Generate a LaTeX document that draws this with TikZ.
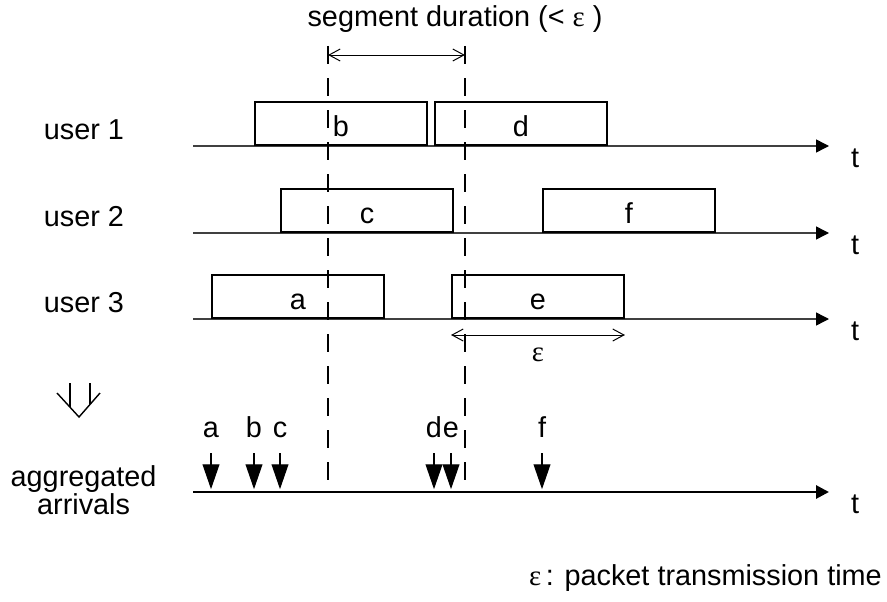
\documentclass[tikz,border=0pt]{standalone}
\usepackage{fontspec}
\setmainfont{Liberation Sans}
\newfontfamily\epsfont{Liberation Serif}
\usepackage{tikz}
\usetikzlibrary{arrows.meta,positioning}

\newcommand{\eps}{{\epsfont ε}}

\begin{document}
\begin{tikzpicture}[
  font=\fontsize{20.5}{24}\selectfont,
  pkt/.style={draw, line width=1.4pt, minimum width=4.3cm, text height=0.85cm, text depth=0.225cm, anchor=south west, inner sep=0pt},
  axis/.style={-{Triangle[length=0.32cm,width=0.32cm,black]}, line width=1pt, draw=black!75},
  aggaxis/.style={-{Triangle[length=0.32cm,width=0.32cm]}, line width=2pt},
  segline/.style={line width=1.4pt, dash pattern=on 0.45cm off 0.35cm},
  dim/.style={{Straight Barb[length=0.28cm,width=0.3cm]}-{Straight Barb[length=0.28cm,width=0.3cm]}, line width=0.7pt},
  arrival/.style={-{Triangle[length=0.62cm,width=0.42cm]}, line width=0.8pt, shorten >=2pt},
  lbl/.style={anchor=base, inner sep=0pt},
]
\useasboundingbox (0,0) rectangle (22.175,15.025);
\coordinate (tip) at (20.725,0);

% ---- per-user time lines ----
\foreach \i/\y in {1/11.375, 2/9.2, 3/7.05} {
  \coordinate (u\i) at (4.825,\y);
  \draw[axis] (u\i) -- (u\i -| tip);
  \node[lbl] (t\i) at (21.375,\y-0.54) {t};
  \node[lbl] (user\i) at (2.1,\y+0.175) {user \i};
}

% ---- packets ----
\node[pkt] (b) at (6.35,11.375) {b};
\node[pkt] (d) at (10.85,11.375) {d};
\node[pkt] (c) at (7.0,9.2) {c};
\node[pkt] (f) at (13.55,9.2) {f};
\node[pkt] (a) at (5.275,7.05) {a};
\node[pkt] (e) at (11.275,7.05) {e};

% ---- aggregated time line ----
\coordinate (agg) at (4.825,2.725);
\draw[aggaxis] (agg) -- (agg -| tip);
\node[lbl] (tagg) at (21.375,2.185) {t};
\node[align=center, font=\fontsize{20.5}{20}\selectfont] (agglabel) at (2.09,2.775) {aggregated\\arrivals};
\coordinate (arrtop) at (0,3.7);
\foreach \p in {a,b,c,d,e,f} {
  \draw[arrival] (\p.south west |- arrtop) -- (\p.south west |- agg);
  \node[lbl] (l\p) at (\p.south west |- 0,4.1) {\p};
}

% ---- segment boundaries ----
\coordinate (s1) at (8.2,13.875);
\coordinate (s2) at (11.625,13.875);
\draw[segline] (s1) -- (s1 |- agg);
\draw[segline] (s2) -- (s2 |- agg);
\draw[dim] ([yshift=-0.225cm]s1) -- ([yshift=-0.225cm]s2);
\node[lbl] (segtitle) at (11.375,14.35) {segment duration (< \eps\ )};

% ---- transmission time ----
\draw[dim] ([yshift=-0.4cm]e.south west) -- node[below=0.3cm, inner sep=0pt] (epslabel) {\eps} ([yshift=-0.4cm]e.south east);

% ---- merge symbol ----
\draw[line width=1pt] (1.425,5.2) -- (1.975,4.6) -- (2.5,5.2);
\draw[line width=1pt] (1.75,5.45) -- (1.75,4.85);
\draw[line width=1pt] (2.25,5.45) -- (2.25,4.925);

% ---- legend ----
\node[lbl, anchor=base east] (legend) at (22.05,0.4) {\eps\,: packet transmission time};
\end{tikzpicture}
\end{document}
